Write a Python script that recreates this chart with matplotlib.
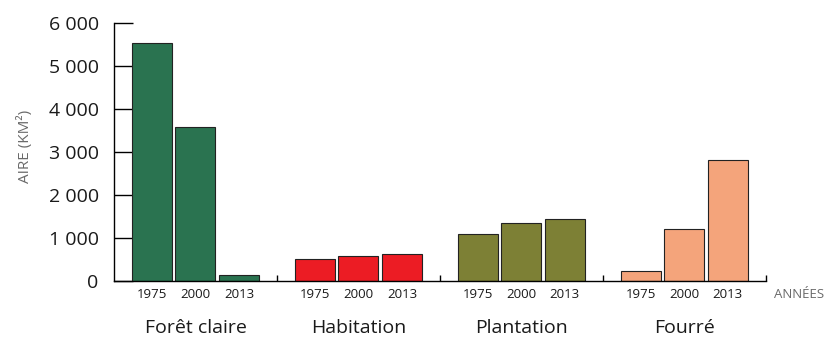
import numpy as np
import matplotlib
matplotlib.use("Agg")
import matplotlib.pyplot as plt
from matplotlib import transforms

plt.rcParams["font.family"] = ["Open Sans", "DejaVu Sans"]

categories = ["Forêt claire", "Habitation", "Plantation", "Fourré"]
years = ["1975", "2000", "2013"]
values = {
    "Forêt claire": [5530, 3580, 130],
    "Habitation": [510, 580, 630],
    "Plantation": [1100, 1350, 1440],
    "Fourré": [245, 1200, 2810],
}
colors = ["#2a7350", "#ec1c24", "#7d8035", "#f4a47b"]
yticks = [0, 1000, 2000, 3000, 4000, 5000, 6000]
ytick_labels = ["0", "1 000", "2 000", "3 000", "4 000", "5 000", "6 000"]

fig = plt.figure(figsize=(8.26, 3.37), dpi=100)
ax = fig.add_axes([0.138, 0.166, 0.789, 0.766])

step = 0.267
width = 0.245
offsets = (np.arange(len(years)) - 1) * step
for i, (cat, col) in enumerate(zip(categories, colors)):
    ax.bar(i + offsets, values[cat], width=width, color=col,
           edgecolor="#222222", linewidth=0.8, zorder=2)

ax.set_xlim(-0.5, len(categories) - 0.5)
ax.set_ylim(0, 6000)

ax.spines["top"].set_visible(False)
ax.spines["right"].set_visible(False)
for s in ("left", "bottom"):
    ax.spines[s].set_linewidth(1.0)
    ax.spines[s].set_zorder(3)

ax.set_yticks(yticks)
ax.set_yticklabels(ytick_labels, fontsize=14, color="#1a1a1a")
ax.tick_params(axis="y", direction="in", length=14, width=1.0, pad=11)

seps = np.arange(len(categories)) + 0.5
ax.set_xticks(seps)
ax.set_xticklabels([])
ax.tick_params(axis="x", direction="in", length=4.5, width=1.0)

trans = transforms.blended_transform_factory(ax.transData, fig.transFigure)
for i, cat in enumerate(categories):
    for off, yr in zip(offsets, years):
        ax.text(i + off, 1 - 295 / 337, yr, transform=trans, ha="center",
                va="center", fontsize=9.5, color="#1a1a1a")
    ax.text(i, 1 - 328 / 337, cat, transform=trans, ha="center",
            va="center", fontsize=14, color="#1a1a1a")

fig.text(824 / 826, 1 - 295 / 337, "ANNÉES", ha="right", va="center",
         fontsize=9.5, color="#6a6a6a")
fig.text(25 / 826, 1 - 146 / 337, "AIRE (KM²)", rotation=90, ha="center",
         va="center", fontsize=11, color="#6a6a6a")

fig.savefig("out.png", dpi=100)
